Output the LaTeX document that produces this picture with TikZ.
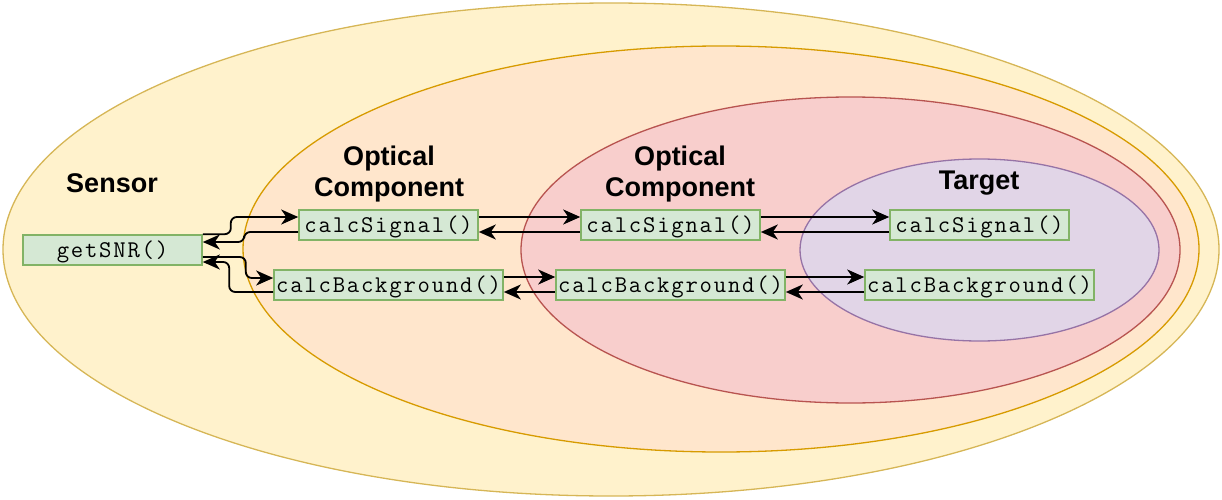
\documentclass[tikz,border=0pt]{standalone}
\usepackage{fontspec}
\usetikzlibrary{arrows.meta}
\newfontfamily\labelfont{Liberation Sans}
\newfontfamily\codefont{Latin Modern Mono}[LetterSpace=7.5]
\definecolor{sensorfill}{HTML}{FFF2CC}
\definecolor{sensorline}{HTML}{D6B656}
\definecolor{opticfill}{HTML}{FFE6CC}
\definecolor{opticline}{HTML}{D79B00}
\definecolor{innerfill}{HTML}{F8CECC}
\definecolor{innerline}{HTML}{B85450}
\definecolor{targetfill}{HTML}{E1D5E7}
\definecolor{targetline}{HTML}{9673A6}
\definecolor{funcfill}{HTML}{D5E8D4}
\definecolor{funcline}{HTML}{82B366}

\begin{document}
\begin{tikzpicture}[x=1pt,y=-1pt]
  \tikzstyle{func} = [rectangle, draw=funcline, fill=funcfill, line width=1.6pt,
    minimum height=30pt, inner sep=0pt, text height=15pt, text depth=1pt,
    font=\codefont\fontsize{24}{26}\selectfont]
  \tikzstyle{title} = [align=center, font=\labelfont\bfseries\fontsize{27}{31}\selectfont]
  \tikzstyle{link} = [line width=1.8pt, -{Stealth[length=17pt,width=15pt,inset=5pt]}, rounded corners=6pt]
  \useasboundingbox (0,0) rectangle (1222,500);

  % nested scopes
  \draw [sensorline, fill=sensorfill, line width=1.3pt] (611,249.5) ellipse [x radius=608pt, y radius=246.5pt];
  \draw [opticline, fill=opticfill, line width=1.3pt] (721,249) ellipse [x radius=478pt, y radius=203pt];
  \draw [innerline, fill=innerfill, line width=1.3pt] (850.5,250) ellipse [x radius=329.5pt, y radius=153pt];
  \draw [targetline, fill=targetfill, line width=1.3pt] (979.5,250) ellipse [x radius=179.5pt, y radius=91pt];

  % titles
  \node (sensor) [title] at (112,183) {Sensor};
  \node (optic1) [title] at (389,174) {Optical\\Component};
  \node (optic2) [title] at (680,174) {Optical\\Component};
  \node (target) [title] at (979,183) {Target};

  % functions
  \node (snr) [func, minimum width=179pt] at (112.5,250) {getSNR()};
  \node (sig1) [func, minimum width=179pt] at (388.5,225) {calcSignal()};
  \node (bg1) [func, minimum width=229pt] at (388.5,285) {calcBackground()};
  \node (sig2) [func, minimum width=179pt] at (670.5,225) {calcSignal()};
  \node (bg2) [func, minimum width=229pt] at (670.5,285) {calcBackground()};
  \node (sig3) [func, minimum width=179pt] at (979.5,225) {calcSignal()};
  \node (bg3) [func, minimum width=229pt] at (979.5,285) {calcBackground()};

  % calls and returns
  \draw [link] (snr.north east) -- ++(28,0) |- ([yshift=8pt]sig1.west);
  \draw [link] ([yshift=-7pt]sig1.west) -- ++(-54,0) |- ([yshift=8pt]snr.east);
  \draw [link] ([yshift=-7pt]snr.east) -- ++(43,0) |- ([yshift=7pt]bg1.west);
  \draw [link] ([yshift=-7pt]bg1.west) -- ++(-44,0) |- ([yshift=-12pt]snr.east);
  \draw [link] ([yshift=8pt]sig1.east) -- ([yshift=8pt]sig2.west);
  \draw [link] ([yshift=-7pt]sig2.west) -- ([yshift=-7pt]sig1.east);
  \draw [link] ([yshift=8pt]sig2.east) -- ([yshift=8pt]sig3.west);
  \draw [link] ([yshift=-7pt]sig3.west) -- ([yshift=-7pt]sig2.east);
  \draw [link] ([yshift=8pt]bg1.east) -- ([yshift=8pt]bg2.west);
  \draw [link] ([yshift=-7pt]bg2.west) -- ([yshift=-7pt]bg1.east);
  \draw [link] ([yshift=8pt]bg2.east) -- ([yshift=8pt]bg3.west);
  \draw [link] ([yshift=-7pt]bg3.west) -- ([yshift=-7pt]bg2.east);
\end{tikzpicture}
\end{document}
